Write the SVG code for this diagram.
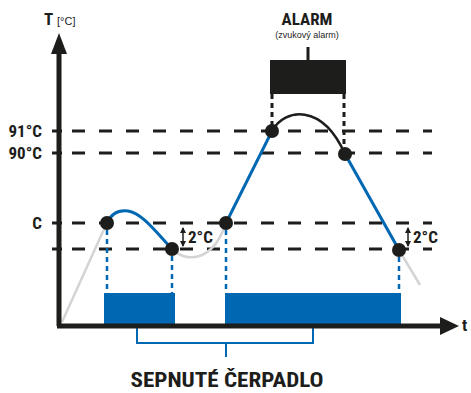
<svg xmlns="http://www.w3.org/2000/svg" width="471" height="393" viewBox="0 0 471 393">
<defs>
<marker id="ah" viewBox="0 0 6 6" refX="5" refY="3" markerWidth="6" markerHeight="6" markerUnits="userSpaceOnUse" orient="auto-start-reverse"><path d="M0,0 L6,3 L0,6 Z" fill="#1d1d1b"/></marker>
<style>
.lbl{font-family:"Liberation Sans Narrow","Roboto Condensed","Liberation Sans",sans-serif;font-weight:bold;fill:#1d1d1b}
.dash{stroke:#1d1d1b;stroke-width:3;stroke-dasharray:13 14;fill:none}
.bdot{stroke:#0068b3;stroke-width:2.5;stroke-dasharray:5 4;fill:none}
.kdot{stroke:#1d1d1b;stroke-width:3;stroke-dasharray:5 4;fill:none}
.blue{stroke:#0068b3;stroke-width:3;fill:none}
.gray{stroke:#d4d4d4;stroke-width:2.5;fill:none}
.pt{fill:#1d1d1b}
</style>
</defs>
<g id="grid">
<line class="dash" x1="72" y1="131" x2="432" y2="131"/>
<line class="dash" x1="72" y1="153" x2="432" y2="153"/>
<line class="dash" x1="72" y1="223" x2="432" y2="223"/>
<line class="dash" x1="72" y1="249" x2="432" y2="249"/>
<line x1="52" y1="131" x2="62" y2="131" stroke="#1d1d1b" stroke-width="3"/>
<line x1="52" y1="153" x2="62" y2="153" stroke="#1d1d1b" stroke-width="3"/>
<line x1="52" y1="223" x2="62" y2="223" stroke="#1d1d1b" stroke-width="3"/>
<line x1="52" y1="249" x2="62" y2="249" stroke="#1d1d1b" stroke-width="3"/>
</g>
<g id="pumps">
<rect x="104" y="293" width="71" height="35" fill="#0068b3"/>
<rect x="225" y="293" width="176" height="35" fill="#0068b3"/>
</g>
<g id="connectors">
<path class="gray" d="M62,322 L105,227"/>
<path class="gray" d="M172,249 C185,262 212,264 226,223"/>
<path class="gray" d="M399,250 L420,285"/>
<line class="bdot" x1="107" y1="230" x2="107" y2="293"/>
<line class="bdot" x1="172" y1="256" x2="172" y2="293"/>
<line class="bdot" x1="226" y1="230" x2="226" y2="293"/>
<line class="bdot" x1="399" y1="257" x2="399" y2="293"/>
<line class="kdot" x1="272" y1="94" x2="272" y2="128"/>
<line class="kdot" x1="344" y1="94" x2="344" y2="150"/>
<path class="blue" d="M107,223 C112,212 120,210 128,211 C142,213 156,232 172,249"/>
<path class="blue" d="M226,223 L272,131"/>
<path d="M272,131 C285,108 322,103 345,154" stroke="#1d1d1b" stroke-width="2.5" fill="none"/>
<path class="blue" d="M345,154 L399,250"/>
<line x1="183" y1="228" x2="183" y2="246" stroke="#1d1d1b" stroke-width="1.5" marker-start="url(#ah)" marker-end="url(#ah)"/>
<line x1="408" y1="228" x2="408" y2="246" stroke="#1d1d1b" stroke-width="1.5" marker-start="url(#ah)" marker-end="url(#ah)"/>
<path d="M137,323 V343 H313 V323 M226,343 V357" stroke="#0068b3" stroke-width="2" fill="none"/>
<line x1="308" y1="47" x2="308" y2="60" stroke="#1d1d1b" stroke-width="3"/>
</g>
<g id="axes">
<line x1="59" y1="326" x2="59" y2="52" stroke="#1d1d1b" stroke-width="5"/>
<path d="M51,54 L59,33 L67,54 Z" fill="#1d1d1b"/>
<line x1="57" y1="326" x2="442" y2="326" stroke="#1d1d1b" stroke-width="5"/>
<path d="M440,317 L459,326 L440,335 Z" fill="#1d1d1b"/>
<text class="lbl" x="44" y="25" font-size="17">T</text>
<text x="57" y="25" font-size="11" fill="#1d1d1b" font-family="Liberation Sans Narrow,Liberation Sans,sans-serif">[°C]</text>
<text class="lbl" x="462" y="331" font-size="17">t</text>
</g>
<g id="points">
<circle class="pt" cx="107" cy="223" r="7"/>
<circle class="pt" cx="172" cy="249" r="7"/>
<circle class="pt" cx="226" cy="223" r="7"/>
<circle class="pt" cx="272" cy="131" r="7"/>
<circle class="pt" cx="345" cy="154" r="7"/>
<circle class="pt" cx="399" cy="250" r="7"/>
</g>
<g id="labels">
<text class="lbl" x="42" y="137" font-size="17" text-anchor="end">91°C</text>
<text class="lbl" x="42" y="159" font-size="17" text-anchor="end">90°C</text>
<text class="lbl" x="42" y="229" font-size="17" text-anchor="end">C</text>
<text class="lbl" x="188" y="243" font-size="17">2°C</text>
<text class="lbl" x="413" y="243" font-size="17">2°C</text>
</g>
<g id="alarm">
<rect x="270" y="60" width="76" height="34" fill="#1d1d1b"/>
<text class="lbl" x="307" y="25" font-size="17" text-anchor="middle">ALARM</text>
<text x="307" y="38" font-size="9" text-anchor="middle" fill="#1d1d1b" font-family="Liberation Sans Narrow,Liberation Sans,sans-serif">(zvukový alarm)</text>
</g>
<g id="pump-label">
<text class="lbl" x="227" y="387" font-size="21" text-anchor="middle" textLength="193" lengthAdjust="spacingAndGlyphs">SEPNUTÉ ČERPADLO</text>
</g>
</svg>
